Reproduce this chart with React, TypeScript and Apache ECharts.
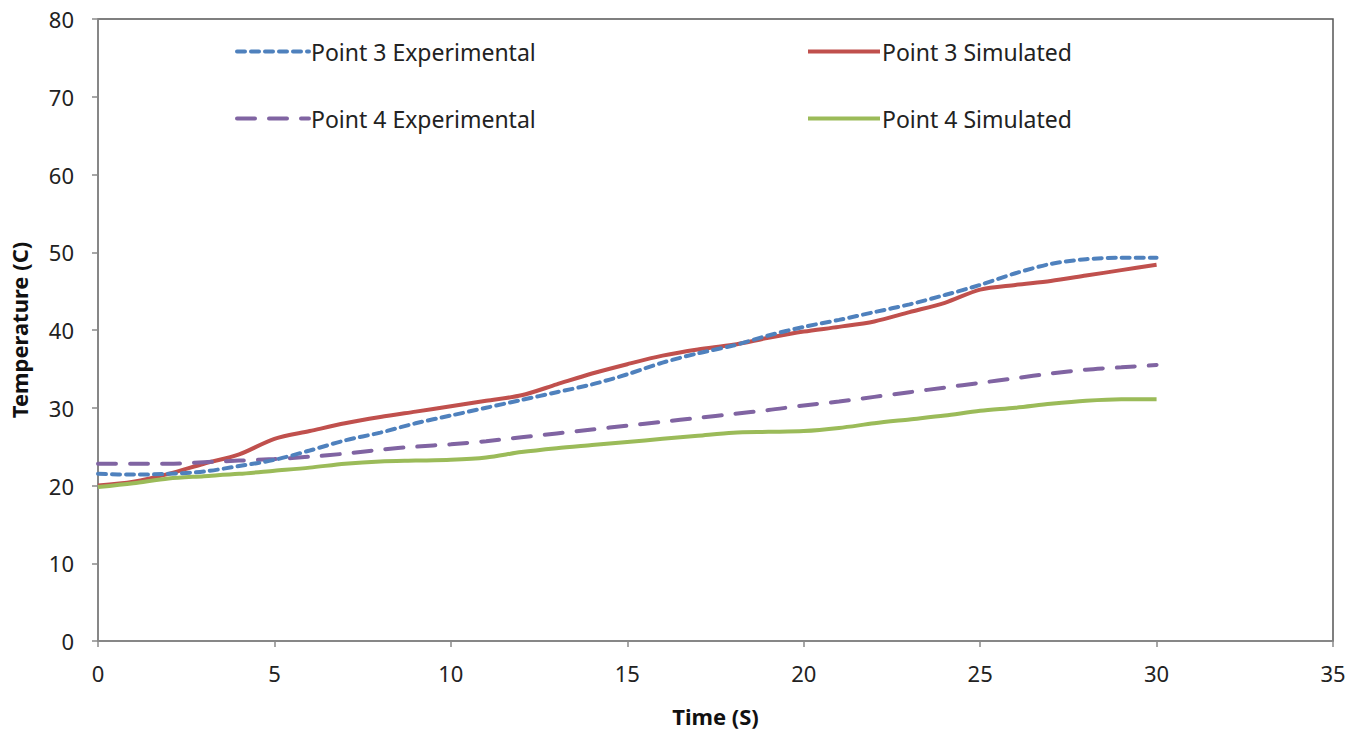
import React, { useEffect, useRef } from "react";
import * as echarts from "echarts";

const times = [0,1,2,3,4,5,6,7,8,9,10,11,12,13,14,15,16,17,18,19,20,21,22,23,24,25,26,27,28,29,30];
const p3Exp = [21.5,21.4,21.5,21.8,22.5,23.3,24.5,25.8,26.8,28,29,30,31,32,33,34.3,35.8,37,38,39.3,40.4,41.3,42.3,43.3,44.5,45.8,47.3,48.5,49.1,49.3,49.3];
const p3Sim = [20,20.5,21.5,22.8,24,26,27,28,28.8,29.5,30.2,30.9,31.6,33,34.4,35.6,36.7,37.5,38.1,39,39.8,40.4,41.1,42.3,43.5,45.2,45.8,46.3,47,47.7,48.4];
const p4Exp = [22.8,22.8,22.8,23,23.2,23.4,23.7,24.1,24.6,25,25.3,25.7,26.2,26.7,27.2,27.7,28.2,28.7,29.2,29.7,30.3,30.8,31.4,32,32.6,33.2,33.8,34.4,34.9,35.2,35.5];
const p4Sim = [19.8,20.3,20.9,21.2,21.5,21.9,22.3,22.8,23.1,23.2,23.3,23.6,24.3,24.8,25.2,25.6,26,26.4,26.8,26.9,27,27.4,28,28.5,29,29.6,30,30.5,30.9,31.1,31.1];

const names = ["Point 3 Experimental", "Point 3 Simulated", "Point 4 Experimental", "Point 4 Simulated"];

const pair = (ys: number[]) => times.map((t, i) => [t, ys[i]]);

export default function App() {
  const ref = useRef<HTMLDivElement>(null);
  useEffect(() => {
    if (!ref.current) return;
    const chart = echarts.init(ref.current, null, { renderer: "svg" });
    const font = "'Noto Sans', sans-serif";
    const axisLine = { lineStyle: { color: "#8a8a8a", width: 1.5 } };
    const legendCommon = {
      orient: "vertical" as const,
      top: 35,
      itemWidth: 72,
      itemHeight: 14,
      itemGap: 44,
      itemStyle: { opacity: 0 },
      lineStyle: { width: 4 },
      textStyle: { fontSize: 23, lineHeight: 22, color: "#222", fontFamily: font, padding: [0, 0, 0, -3] },
    };
    chart.setOption({
      animation: false,
      backgroundColor: "#fff",
      grid: { left: 98, right: 21, top: 19, bottom: 91, show: true, borderColor: "#555", borderWidth: 1.5 },
      legend: [
        { ...legendCommon, left: 230, data: [names[0], names[2]] },
        { ...legendCommon, left: 801, data: [names[1], names[3]] },
      ],
      xAxis: {
        type: "value",
        min: 0,
        max: 35,
        interval: 5,
        name: "Time (S)",
        nameLocation: "middle",
        nameGap: 64,
        nameTextStyle: { fontSize: 22, fontWeight: "bold", color: "#111", fontFamily: font },
        axisLine,
        axisTick: { show: true, length: 6, lineStyle: { color: "#8a8a8a", width: 1.5 } },
        axisLabel: { fontSize: 22, color: "#222", fontFamily: font, margin: 21 },
        splitLine: { show: false },
      },
      yAxis: {
        type: "value",
        min: 0,
        max: 80,
        interval: 10,
        name: "Temperature (C)",
        nameLocation: "middle",
        nameGap: 68,
        nameTextStyle: { fontSize: 22, fontWeight: "bold", color: "#111", fontFamily: font },
        axisLine: { show: true, ...axisLine },
        axisTick: { show: true, length: 6, lineStyle: { color: "#8a8a8a", width: 1.5 } },
        axisLabel: { fontSize: 22, color: "#222", fontFamily: font, margin: 24 },
        splitLine: { show: false },
      },
      series: [
        {
          name: names[0], type: "line", data: pair(p3Exp), smooth: 0.3, symbol: "none",
          itemStyle: { color: "#4F81BD" },
          lineStyle: { color: "#4F81BD", width: 4, type: [8, 6], cap: "round" }, z: 3,
        },
        {
          name: names[1], type: "line", data: pair(p3Sim), smooth: 0.3, symbol: "none",
          itemStyle: { color: "#C0504D" },
          lineStyle: { color: "#C0504D", width: 4 }, z: 2,
        },
        {
          name: names[2], type: "line", data: pair(p4Exp), smooth: 0.3, symbol: "none",
          itemStyle: { color: "#8064A2" },
          lineStyle: { color: "#8064A2", width: 4, type: [18, 14], cap: "round" }, z: 2,
        },
        {
          name: names[3], type: "line", data: pair(p4Sim), smooth: 0.3, symbol: "none",
          itemStyle: { color: "#9BBB59" },
          lineStyle: { color: "#9BBB59", width: 4 }, z: 2,
        },
      ],
    });
    return () => chart.dispose();
  }, []);
  return (
    <div
      ref={ref}
      style={{ position: "fixed", left: 0, top: 0, width: 1354, height: 732 }}
    />
  );
}
